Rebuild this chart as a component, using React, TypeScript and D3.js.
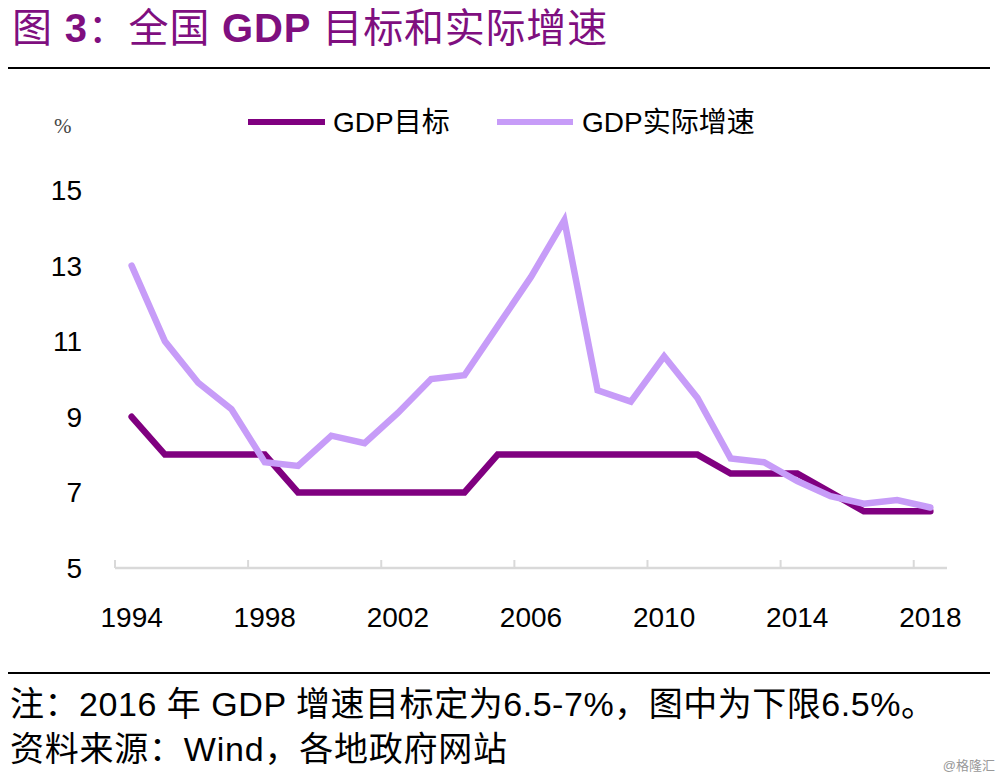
import React from "react";
import * as d3 from "d3";

// 全国 GDP 目标和实际增速 (1994-2018)
const years = [
  1994, 1995, 1996, 1997, 1998, 1999, 2000, 2001, 2002, 2003, 2004, 2005, 2006,
  2007, 2008, 2009, 2010, 2011, 2012, 2013, 2014, 2015, 2016, 2017, 2018,
];
const gdpTarget = [
  9, 8, 8, 8, 8, 7, 7, 7, 7, 7, 7, 8, 8, 8, 8, 8, 8, 8, 7.5, 7.5, 7.5, 7, 6.5,
  6.5, 6.5,
];
const gdpActual = [
  13.0, 11.0, 9.9, 9.2, 7.8, 7.7, 8.5, 8.3, 9.1, 10.0, 10.1, 11.4, 12.7, 14.2,
  9.7, 9.4, 10.6, 9.5, 7.9, 7.8, 7.3, 6.9, 6.7, 6.8, 6.6,
];
const yTicks = [5, 7, 9, 11, 13, 15];
const xTickYears = [1994, 1998, 2002, 2006, 2010, 2014, 2018];

const W = 1000;
const H = 780;
const PLOT = { left: 115, right: 947, top: 190, bottom: 568 };

const FONT = "'Liberation Sans', Arial, 'Noto Sans CJK SC', sans-serif";
const TITLE_COLOR = "#7f0f7f";
const TARGET_COLOR = "#800080";
const ACTUAL_COLOR = "#c79cf8";

export default function App() {
  const x = d3
    .scaleBand<number>()
    .domain(years)
    .range([PLOT.left, PLOT.right])
    .padding(0);
  const y = d3.scaleLinear().domain([5, 15]).range([PLOT.bottom, PLOT.top]);
  const cx = (yr: number) => (x(yr) ?? 0) + x.bandwidth() / 2;

  const line = d3
    .line<number>()
    .x((_, i) => cx(years[i]))
    .y((d) => y(d));

  return (
    <div style={{ position: "absolute", left: 0, top: 0 }}>
      <svg width={W} height={H} style={{ display: "block", background: "#fff" }}>
        {/* 标题 */}
        <text
          x={12}
          y={42}
          fill={TITLE_COLOR}
          fontFamily={FONT}
          fontSize={40}
          letterSpacing={0.8}
        >
          <tspan>图</tspan>
          <tspan fontWeight="bold"> 3</tspan>
          <tspan>：全国</tspan>
          <tspan fontWeight="bold"> GDP </tspan>
          <tspan>目标和实际增速</tspan>
        </text>
        <line x1={8} x2={990} y1={68} y2={68} stroke="#000" strokeWidth={2} />

        {/* 图例 */}
        <line x1={248} x2={325} y1={122} y2={122} stroke={TARGET_COLOR} strokeWidth={6} />
        <text x={333} y={132} fontFamily={FONT} fontSize={28} fill="#000">
          GDP目标
        </text>
        <line x1={497} x2={573} y1={122} y2={122} stroke={ACTUAL_COLOR} strokeWidth={6} />
        <text x={582} y={132} fontFamily={FONT} fontSize={28} fill="#000">
          GDP实际增速
        </text>

        {/* 单位 */}
        <text x={54} y={133} fontFamily="'Liberation Serif', serif" fontSize={21} fill="#444">
          %
        </text>

        {/* Y 轴标签 */}
        {yTicks.map((t) => (
          <text
            key={t}
            x={82}
            y={y(t) + 10}
            textAnchor="end"
            fontFamily={FONT}
            fontSize={28}
            fill="#000"
          >
            {t}
          </text>
        ))}

        {/* X 轴 */}
        <line
          x1={PLOT.left}
          x2={PLOT.right}
          y1={PLOT.bottom}
          y2={PLOT.bottom}
          stroke="#d9d9d9"
          strokeWidth={2.5}
        />
        {xTickYears.map((yr) => (
          <g key={yr}>
            <line
              x1={x(yr)}
              x2={x(yr)}
              y1={PLOT.bottom}
              y2={PLOT.bottom - 8}
              stroke="#d9d9d9"
              strokeWidth={2}
            />
            <text
              x={cx(yr)}
              y={627}
              textAnchor="middle"
              fontFamily={FONT}
              fontSize={28}
              fill="#000"
            >
              {yr}
            </text>
          </g>
        ))}

        {/* 折线 */}
        <path
          d={line(gdpTarget) ?? ""}
          fill="none"
          stroke={TARGET_COLOR}
          strokeWidth={6.5}
          strokeLinecap="round"
        />
        <path
          d={line(gdpActual) ?? ""}
          fill="none"
          stroke={ACTUAL_COLOR}
          strokeWidth={6.5}
          strokeLinecap="round"
        />

        {/* 注释 */}
        <line x1={8} x2={990} y1={673} y2={673} stroke="#000" strokeWidth={2} />
        <text
          x={10}
          y={716}
          fontFamily={FONT}
          fontSize={34}
          fill="#000"
          textLength={925}
          lengthAdjust="spacing"
        >
          注：2016 年 GDP 增速目标定为6.5-7%，图中为下限6.5%。
        </text>
        <text
          x={10}
          y={761}
          fontFamily={FONT}
          fontSize={34}
          fill="#000"
          textLength={497}
          lengthAdjust="spacing"
        >
          资料来源：Wind，各地政府网站
        </text>
        <text x={995} y={770} textAnchor="end" fontFamily={FONT} fontSize={13} fill="#999">
          @格隆汇
        </text>
      </svg>
    </div>
  );
}
